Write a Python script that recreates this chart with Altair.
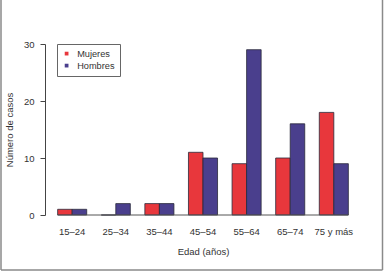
import altair as alt
import pandas as pd

ages = ['15–24', '25–34', '35–44', '45–54', '55–64', '65–74', '75 y más']
mujeres = [1, 0, 2, 11, 9, 10, 18]
hombres = [1, 2, 2, 10, 29, 16, 9]
series = ['Mujeres', 'Hombres']
colors = ['#e8373c', '#4a3f8d']
y_ticks = [0, 5, 10, 15, 20, 25, 30]

rows = []
for a, m, h in zip(ages, mujeres, hombres):
    rows.append({'edad': a, 'sexo': 'Mujeres', 'casos': m})
    rows.append({'edad': a, 'sexo': 'Hombres', 'casos': h})
df = pd.DataFrame(rows)

FONT = 'Liberation Sans'
xscale = alt.Scale(domain=ages, paddingInner=1 / 3, paddingOuter=0.29)

bars = alt.Chart(df).mark_bar(stroke='#2a2a3a', strokeWidth=0.8).encode(
    x=alt.X('edad:N', scale=xscale, sort=ages,
            axis=alt.Axis(title='Edad (años)', labelAngle=0, ticks=False, domain=False,
                          labelPadding=11, titlePadding=11)),
    xOffset=alt.XOffset('sexo:N', sort=series,
                        scale=alt.Scale(domain=series, paddingInner=0, paddingOuter=0)),
    y=alt.Y('casos:Q', scale=alt.Scale(domain=[0, 30], nice=False),
            axis=alt.Axis(values=y_ticks, title='Número de casos', grid=False,
                          tickSize=5, labelPadding=6, titlePadding=9)),
    color=alt.Color('sexo:N', sort=series, scale=alt.Scale(domain=series, range=colors),
                    legend=alt.Legend(orient='none', legendX=12, legendY=0, title=None,
                                      strokeColor='#666', fillColor='white', padding=5,
                                      symbolType='square', symbolSize=14, symbolStrokeWidth=0,
                                      labelFont=FONT, labelFontSize=9.2, labelColor='#333',
                                      labelOffset=6)),
)

base_df = pd.DataFrame({'first': [ages[0]], 'last': [ages[-1]], 'zero': [0]})
baseline = alt.Chart(base_df).mark_rule(color='#555', strokeWidth=1).encode(
    x=alt.X('first:N', bandPosition=0, title='Edad (años)'),
    x2=alt.X2('last', bandPosition=1),
    y=alt.Y('zero:Q', title='Número de casos'),
)

one = pd.DataFrame({'k': [0]})
frame_style = dict(color='#8a8a8a', strokeWidth=1.5)
left_b = alt.Chart(one).mark_rule(**frame_style).encode(x=alt.value(-44), y=alt.value(-44), y2=alt.value(226))
right_b = alt.Chart(one).mark_rule(**frame_style).encode(x=alt.value(337.5), y=alt.value(-44), y2=alt.value(226))
bottom_b = alt.Chart(one).mark_rule(**frame_style).encode(x=alt.value(-44), x2=alt.value(337.5), y=alt.value(226))

chart = alt.layer(bars, baseline, left_b, right_b, bottom_b).properties(
    width=316, height=171,
    autosize=alt.AutoSizeParams(type='none'),
    padding={'left': 45, 'top': 44, 'right': 23, 'bottom': 57},
    background='white',
).configure_view(stroke=None).configure_axis(
    labelFont=FONT, titleFont=FONT, labelFontSize=9.5, titleFontSize=9.5,
    titleFontWeight='normal', labelColor='#333', titleColor='#333',
    domainColor='#444', tickColor='#444',
)

chart.save('out.html', embed_options={'renderer': 'svg', 'actions': False})
